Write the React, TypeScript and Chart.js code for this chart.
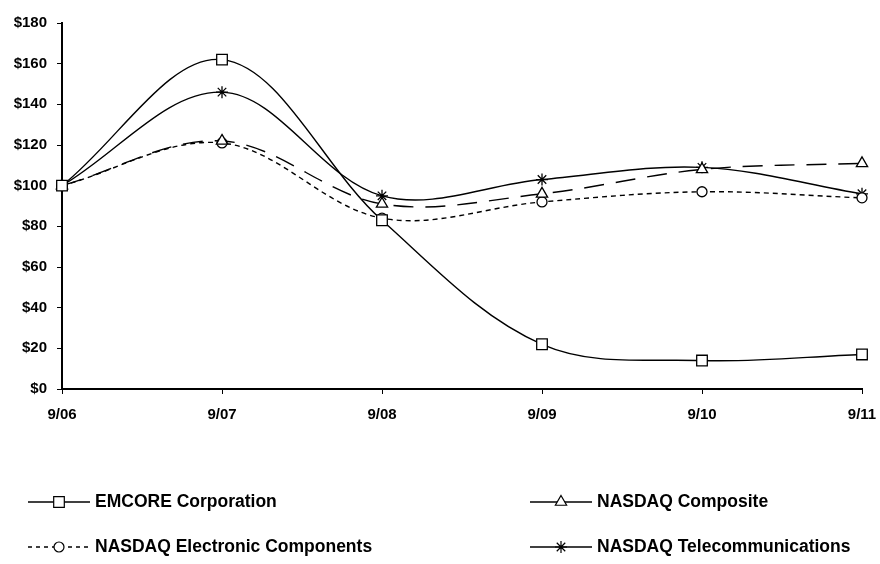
import React, { useEffect, useRef } from 'react';
import { Chart, registerables } from 'chart.js';
import { drawPoint } from 'chart.js/helpers';

Chart.register(...registerables);

const categories = ['9/06', '9/07', '9/08', '9/09', '9/10', '9/11'];
const emcore = [100, 162, 83, 22, 14, 17];
const composite = [100, 122, 91, 96, 108, 111];
const electronic = [100, 121, 84, 92, 97, 94];
const telecom = [100, 146, 95, 103, 109, 96];
const seriesNames = [
  'EMCORE Corporation',
  'NASDAQ Composite',
  'NASDAQ Electronic Components',
  'NASDAQ Telecommunications',
];
const yMin = 0;
const yMax = 180;
const yStep = 20;

const FONT = '"Liberation Sans", Arial, sans-serif';

const styles = [
  { pointStyle: 'rect', radius: 7.5, dash: [] as number[], legendDash: [] as number[] },
  { pointStyle: 'triangle', radius: 6.5, dash: [20, 12], legendDash: [] as number[] },
  { pointStyle: 'circle', radius: 5, dash: [5, 4], legendDash: [4, 4] },
  { pointStyle: 'star', radius: 6, dash: [] as number[], legendDash: [] as number[] },
];

const legendPlugin = {
  id: 'customLegend',
  afterDraw(chart: any) {
    const ctx = chart.ctx;
    const colX = [28, 530];
    const rowY = [502, 547];
    chart.data.datasets.forEach((ds: any, i: number) => {
      const x0 = colX[i % 2];
      const y = rowY[Math.floor(i / 2)];
      const st = styles[i];
      ctx.save();
      ctx.strokeStyle = '#000';
      ctx.lineWidth = 1.5;
      ctx.setLineDash(st.legendDash);
      ctx.beginPath();
      ctx.moveTo(x0, y);
      ctx.lineTo(x0 + 62, y);
      ctx.stroke();
      ctx.setLineDash([]);
      ctx.fillStyle = '#fff';
      ctx.strokeStyle = '#000';
      ctx.lineWidth = 1.2;
      drawPoint(ctx, { pointStyle: st.pointStyle, radius: st.radius, rotation: 0, borderWidth: 1.2 } as any, x0 + 31, y);
      ctx.fillStyle = '#000';
      ctx.font = `bold 17.5px ${FONT}`;
      ctx.textBaseline = 'middle';
      ctx.textAlign = 'left';
      ctx.fillText(ds.label, x0 + 67, y);
      ctx.restore();
    });
  },
};

export default function App() {
  const canvasRef = useRef<HTMLCanvasElement>(null);

  useEffect(() => {
    document.body.style.margin = '0';
    const seriesValues = [emcore, composite, electronic, telecom];
    const chart = new Chart(canvasRef.current as HTMLCanvasElement, {
      type: 'line',
      data: {
        labels: categories,
        datasets: seriesValues.map((vals, i) => ({
          label: seriesNames[i],
          data: vals,
          borderColor: '#000',
          borderWidth: 1.4,
          borderDash: styles[i].dash,
          backgroundColor: '#fff',
          pointStyle: styles[i].pointStyle as any,
          pointRadius: styles[i].radius,
          pointBorderColor: '#000',
          pointBackgroundColor: '#fff',
          pointBorderWidth: 1.3,
          tension: 0.35,
          fill: false,
        })),
      },
      options: {
        animation: false,
        responsive: true,
        maintainAspectRatio: false,
        layout: { padding: { top: 23, right: 0, bottom: 143, left: 0 } },
        plugins: {
          legend: { display: false },
          tooltip: { enabled: false },
        },
        scales: {
          x: {
            type: 'category',
            offset: false,
            afterFit: (s: any) => { s.height = 32; s.paddingRight = 18; },
            grid: { display: true, drawOnChartArea: false, drawTicks: true, tickLength: 5, color: '#000' },
            border: { display: true, color: '#000', width: 2 },
            ticks: {
              color: '#000',
              padding: 12,
              maxRotation: 0,
              autoSkip: false,
              font: { family: FONT, size: 15, weight: 'bold' },
            },
          },
          y: {
            min: yMin,
            max: yMax,
            afterFit: (s: any) => { s.width = 62; },
            grid: { display: true, drawOnChartArea: false, drawTicks: true, tickLength: 5, color: '#000' },
            border: { display: true, color: '#000', width: 2 },
            ticks: {
              stepSize: yStep,
              color: '#000',
              padding: 10,
              callback: (v: any) => '$' + v,
              font: { family: FONT, size: 15, weight: 'bold' },
            },
          },
        },
      },
      plugins: [legendPlugin],
    });
    return () => chart.destroy();
  }, []);

  return (
    <div style={{ width: 880, height: 564, position: 'relative', background: '#fff' }}>
      <canvas ref={canvasRef} />
    </div>
  );
}
